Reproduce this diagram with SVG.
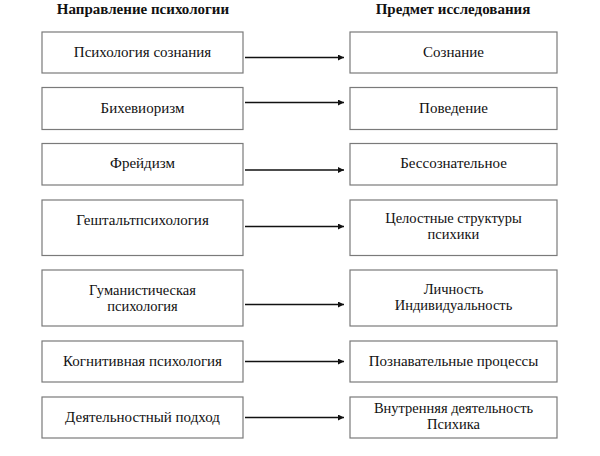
<svg xmlns="http://www.w3.org/2000/svg" width="600" height="456" viewBox="0 0 600 456">
<style>
.bg{fill:#fff}
.box{fill:#fff;stroke:#7a7a7a;stroke-width:1.2}
.t{font-family:"Liberation Serif","Times New Roman",serif;font-size:15px;fill:#111;text-anchor:middle}
.t2{font-size:14.5px}
.h{font-family:"Liberation Serif","Times New Roman",serif;font-size:15px;font-weight:bold;fill:#111;text-anchor:middle}
.c{stroke:#111;stroke-width:1.5;fill:none}
</style>
<defs>
<marker id="ah" viewBox="0 0 10 10" refX="10" refY="5" markerWidth="6" markerHeight="6" markerUnits="userSpaceOnUse" orient="auto">
<path d="M0,0 L10,5 L0,10 z" fill="#111"/>
</marker>
</defs>
<rect class="bg" x="0" y="0" width="600" height="456"/>
<text class="h" x="143" y="13.5">Направление психологии</text>
<text class="h" x="453" y="13.5">Предмет исследования</text>

<g id="l1"><rect class="box" x="42" y="32" width="201" height="41"/><text class="t" x="142.5" y="57">Психология сознания</text></g>
<g id="l2"><rect class="box" x="42" y="87.5" width="201" height="42"/><text class="t" x="142.5" y="112.5">Бихевиоризм</text></g>
<g id="l3"><rect class="box" x="42" y="143.5" width="201" height="41.5"/><text class="t" x="142.5" y="168">Фрейдизм</text></g>
<g id="l4"><rect class="box" x="42" y="200" width="201" height="55.5"/><text class="t" x="142.5" y="225">Гештальтпсихология</text></g>
<g id="l5"><rect class="box" x="42" y="270" width="201" height="56"/><text class="t t2" x="142.5" y="294.7">Гуманистическая</text><text class="t t2" x="142.5" y="310.7">психология</text></g>
<g id="l6"><rect class="box" x="42" y="341" width="201" height="41"/><text class="t" x="142.5" y="365.5">Когнитивная психология</text></g>
<g id="l7"><rect class="box" x="42" y="397" width="201" height="41"/><text class="t" x="142.5" y="421.5">Деятельностный подход</text></g>

<g id="r1"><rect class="box" x="350" y="32" width="207" height="41"/><text class="t" x="453.5" y="57">Сознание</text></g>
<g id="r2"><rect class="box" x="350" y="87.5" width="207" height="42"/><text class="t" x="453.5" y="112.5">Поведение</text></g>
<g id="r3"><rect class="box" x="350" y="143.5" width="207" height="41.5"/><text class="t" x="453.5" y="168">Бессознательное</text></g>
<g id="r4"><rect class="box" x="350" y="200" width="207" height="55.5"/><text class="t t2" x="453.5" y="223.3">Целостные структуры</text><text class="t t2" x="453.5" y="239.3">психики</text></g>
<g id="r5"><rect class="box" x="350" y="270" width="207" height="56"/><text class="t t2" x="453.5" y="293.8">Личность</text><text class="t t2" x="453.5" y="309.8">Индивидуальность</text></g>
<g id="r6"><rect class="box" x="350" y="341" width="207" height="41"/><text class="t" x="453.5" y="365.5">Познавательные процессы</text></g>
<g id="r7"><rect class="box" x="350" y="397" width="207" height="41"/><text class="t t2" x="453.5" y="413.2">Внутренняя деятельность</text><text class="t t2" x="453.5" y="429.2">Психика</text></g>

<g id="connectors">
<line class="c" x1="245" y1="57.5" x2="344" y2="57.5" marker-end="url(#ah)"/>
<line class="c" x1="245" y1="102.5" x2="344" y2="102.5" marker-end="url(#ah)"/>
<line class="c" x1="245" y1="170" x2="344" y2="170" marker-end="url(#ah)"/>
<line class="c" x1="245" y1="226.5" x2="344" y2="226.5" marker-end="url(#ah)"/>
<line class="c" x1="245" y1="304.5" x2="344" y2="304.5" marker-end="url(#ah)"/>
<line class="c" x1="245" y1="361.5" x2="344" y2="361.5" marker-end="url(#ah)"/>
<line class="c" x1="245" y1="417.5" x2="344" y2="417.5" marker-end="url(#ah)"/>
</g>
</svg>
